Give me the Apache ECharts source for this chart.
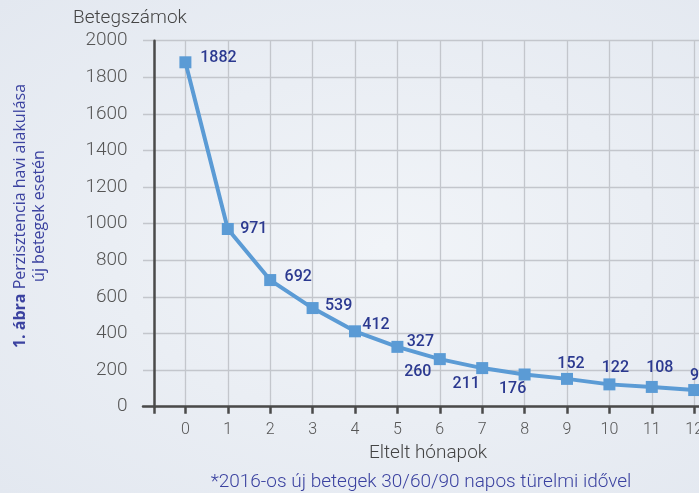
<!DOCTYPE html>
<html>
<head>
<meta charset="utf-8">
<script src="https://cdn.jsdelivr.net/npm/echarts@6/dist/echarts.min.js"></script>
<style>
  html, body { margin: 0; padding: 0; }
  body { background: radial-gradient(ellipse at 55% 50%, #f1f4f8 0%, #e3e8f0 100%); }
  #chart { width: 699px; height: 493px; }
</style>
</head>
<body>
<div id="chart"></div>
<script>
// adatok
var months = [0, 1, 2, 3, 4, 5, 6, 7, 8, 9, 10, 11, 12];
var patients = [1882, 971, 692, 539, 412, 327, 260, 211, 176, 152, 122, 108, 91];
var monthTicks = [0, 1, 2, 3, 4, 5, 6, 7, 8, 9, 10, 11, 12];
// cimkek helye a pont kozepehez kepest
var labelOffsets = [[33, -4], [26, 0], [28, -3], [26, -2], [21, -6], [23, -5],
  [-22, 13], [-16, 16], [-12, 15], [4, -15], [6, -16], [8, -19], [5, -14]];

var yAxisX = -0.726; // a fuggoleges tengely helye az x skalan

var myChart = echarts.init(document.getElementById('chart'), null, {renderer: 'canvas'});

var seriesData = months.map(function (m, i) {
  return {value: [m, patients[i]], label: {offset: labelOffsets[i]}};
});

var option = {
  backgroundColor: 'transparent',
  animation: false,
  grid: {left: 143, width: 593.6, top: 40.7, bottom: 86.3, containLabel: false,
    outerBoundsMode: 'none'},
  xAxis: {
    type: 'value',
    min: -1,
    max: 13,
    interval: 1,
    axisLine: {show: true, onZero: false, lineStyle: {color: '#4a4a4a', width: 2.5}},
    axisTick: {show: true, length: 7, customValues: [yAxisX].concat(monthTicks),
      lineStyle: {color: '#4a4a4a', width: 2.5}},
    axisLabel: {customValues: monthTicks, margin: 15, color: '#555',
      fontFamily: 'Roboto', fontWeight: 300, fontSize: 16},
    splitLine: {show: true, showMinLine: false, lineStyle: {color: '#c3c6cc', width: 1.3}}
  },
  yAxis: {
    type: 'value',
    min: 0,
    max: 2000,
    interval: 200,
    offset: -11.6,
    axisLine: {show: true, onZero: false, lineStyle: {color: '#4a4a4a', width: 2.5}},
    axisTick: {show: false},
    axisLabel: {margin: 27, color: '#555', fontFamily: 'Roboto', fontWeight: 300, fontSize: 19,
      formatter: function (v) { return String(v); }},
    splitLine: {show: true, lineStyle: {color: '#c3c6cc', width: 1.3}}
  },
  series: [{
    type: 'line',
    data: seriesData,
    symbol: 'rect',
    symbolSize: 12,
    z: 5,
    lineStyle: {color: '#5b9bd5', width: 4},
    itemStyle: {color: '#5b9bd5'},
    label: {
      show: true,
      position: 'inside',
      formatter: function (p) { return p.value[1]; },
      color: '#2b3990',
      fontFamily: 'Roboto',
      fontWeight: 500,
      fontSize: 16
    }
  }],
  graphic: [
    {type: 'text', x: 73, y: 18, style: {text: 'Betegszámok', fill: '#444',
      font: '300 19px Roboto', textAlign: 'left', textVerticalAlign: 'middle'}},
    {type: 'text', x: 428, y: 453, style: {text: 'Eltelt hónapok', fill: '#444',
      font: '300 19px Roboto', textAlign: 'center', textVerticalAlign: 'middle'}},
    {type: 'text', x: 421, y: 482, style: {text: '*2016-os új betegek 30/60/90 napos türelmi idővel',
      fill: '#3b42a0', font: '300 19px Roboto', textAlign: 'center', textVerticalAlign: 'middle'}},
    {type: 'text', x: 20, y: 216, rotation: Math.PI / 2, style: {
      text: '{b|1. ábra} Perzisztencia havi alakulása', fill: '#3b42a0',
      font: '16px "Open Sans"', textAlign: 'center', textVerticalAlign: 'middle',
      rich: {b: {fontWeight: 'bold', fontSize: 16, fontFamily: 'Open Sans', fill: '#3b42a0'}}}},
    {type: 'text', x: 39, y: 216, rotation: Math.PI / 2, style: {
      text: 'új betegek esetén', fill: '#3b42a0',
      font: '16px "Open Sans"', textAlign: 'center', textVerticalAlign: 'middle'}}
  ]
};

myChart.setOption(option);
</script>
</body>
</html>
